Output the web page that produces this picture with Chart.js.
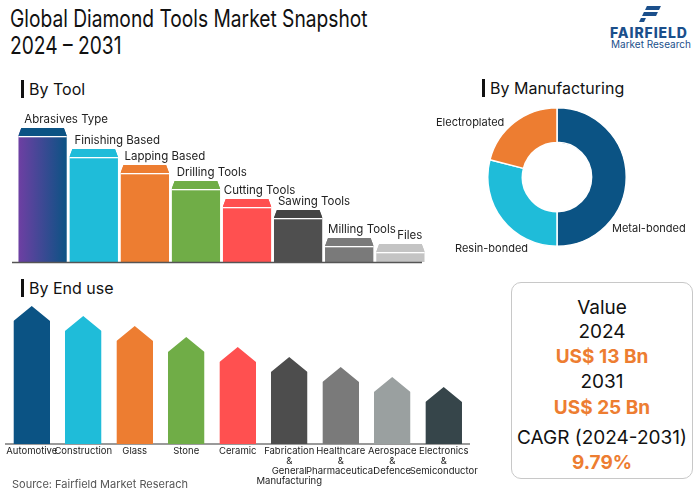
<!DOCTYPE html>
<html>
<head>
<meta charset="utf-8">
<script src="https://cdn.jsdelivr.net/npm/chart.js@4.4.1/dist/chart.umd.min.js"></script>
<style>
body{margin:0;width:700px;height:491px;background:#fff;position:relative;overflow:hidden;font-family:Inter,"Noto Sans",sans-serif;color:#111}
.abs{position:absolute;white-space:nowrap}
.title{left:10px;top:5px;font-size:24px;line-height:27px;font-weight:400;transform:scaleX(0.8);transform-origin:0 0}
.head{font-size:16px;line-height:18px;padding-left:5px;border-left:3px solid #111}
.lbl{font-size:11px;color:#222}
#box{left:511px;top:282px;width:180px;height:195px;border:1px solid #c8c8c8;border-radius:10px}
.bl{left:0;width:180px;text-align:center;font-size:19px;line-height:24px}
.or{color:#ed7d31;font-weight:700}
</style>
</head>
<body>
<div class="abs title">Global Diamond Tools Market Snapshot<br>2024 – 2031</div>

<div class="abs" style="left:646px;top:6px;width:14px;height:4px;background:#1b4f8b;transform:skewX(-25deg)"></div>
<div class="abs" style="left:643px;top:12px;width:14px;height:4px;background:#1b4f8b;transform:skewX(-25deg)"></div>
<div class="abs" style="left:640px;top:18px;width:5px;height:4px;background:#1b4f8b;transform:skewX(-25deg)"></div>
<div class="abs" style="left:610px;top:24px;font-size:14px;font-weight:800;color:#1b4f8b;letter-spacing:0.9px">FAIRFIELD</div>
<div class="abs" style="left:611px;top:38px;font-size:10px;color:#1b4f8b">Market Research</div>

<div class="abs head" style="left:21px;top:80px">By Tool</div>
<div class="abs head" style="left:482px;top:79px">By Manufacturing</div>
<div class="abs head" style="left:21px;top:279px">By End use</div>

<canvas id="toolChart" class="abs" style="left:10px;top:100px"></canvas>
<canvas id="endChart" class="abs" style="left:0px;top:300px"></canvas>
<canvas id="mfgChart" class="abs" style="left:487px;top:107px"></canvas>

<div class="abs lbl" style="left:436px;top:115px">Electroplated</div>
<div class="abs lbl" style="left:455px;top:241px">Resin-bonded</div>
<div class="abs lbl" style="left:612px;top:221px">Metal-bonded</div>

<div id="box" class="abs">
  <div class="abs bl" style="top:13px">Value</div>
  <div class="abs bl" style="top:37px">2024</div>
  <div class="abs bl or" style="top:62px">US$ 13 Bn</div>
  <div class="abs bl" style="top:87px">2031</div>
  <div class="abs bl or" style="top:113px">US$ 25 Bn</div>
  <div class="abs bl" style="top:143px">CAGR (2024-2031)</div>
  <div class="abs bl or" style="top:168px">9.79%</div>
</div>

<div class="abs" style="left:12px;top:477px;font-size:11px;color:#555">Source: Fairfield Market Reserach</div>

<script>
// ---------------------
// Data
// ---------------------

const toolLabels = ["Abrasives Type","Finishing Based","Lapping Based","Drilling Tools","Cutting Tools","Sawing Tools","Milling Tools","Files"];
const toolValues = [134,113,97,81,63,52,24,18];

const endUseLabels = [["Automotive"],["Construction"],["Glass"],["Stone"],["Ceramic"],["Fabrication","&","General","Manufacturing"],["Healthcare","&","Pharmaceutical"],["Aerospace","&","Defence"],["Electronics","&","Semiconductor"]];
const endUseValues = [138,128,118,107,97,87,77,67,57];

const mfgLabels = ["Metal-bonded","Resin-bonded","Electroplated"];
const mfgValues = [50,29,21];

// ---------------------
// Styles
// ---------------------

const toolColors = ["#0b5384","#1fbcd9","#ed7d31","#70ad47","#ff5050","#4f4f4f","#7a7a7a","#c4c4c4"];
const toolCapColors = ["#0b5384","#1fbcd9","#ed7d31","#70ad47","#ff5050","#444444","#7a7a7a","#c4c4c4"];
const toolLabelNudge = [6,5,4,5,1,4,3,21];
const endColors = ["#0b5384","#1fbcd9","#ed7d31","#70ad47","#ff5050","#4d4d4d","#7a7a7a","#9aa0a0","#36454a"];
const mfgColors = ["#0b5384","#1fbcd9","#ed7d31"];

const FONT = "Inter, 'Noto Sans', sans-serif";
const CAP = 8;
const ROOF = 15;

Chart.defaults.animation = false;
Chart.defaults.font.family = FONT;

function setSize(id,w,h){
    const c=document.getElementById(id);
    c.width=w; c.height=h;
    c.style.width=w+"px"; c.style.height=h+"px";
    return c;
}

// ---------------------
// By Tool
// ---------------------

const toolShapes = {
    id:"toolShapes",
    beforeDatasetsDraw(chart){
        const ctx=chart.ctx;
        ctx.save();
        ctx.beginPath();
        chart.getDatasetMeta(0).data.forEach(b=>{
            const l=b.x-b.width/2, r=b.x+b.width/2;
            ctx.moveTo(l,b.base);
            ctx.lineTo(l,b.y+CAP);
            ctx.lineTo(l+3,b.y);
            ctx.lineTo(r-3,b.y);
            ctx.lineTo(r,b.y+CAP);
            ctx.lineTo(r,b.base);
            ctx.closePath();
        });
        ctx.clip();
    },
    afterDatasetsDraw(chart){
        const ctx=chart.ctx;
        const bars=chart.getDatasetMeta(0).data;
        bars.forEach((b,i)=>{
            const l=b.x-b.width/2;
            ctx.fillStyle=toolCapColors[i];
            ctx.fillRect(l,b.y,b.width,CAP);
            ctx.fillStyle="#ffffff";
            ctx.fillRect(l,b.y+CAP,b.width,1.3);
        });
        ctx.restore();

        ctx.fillStyle="#222";
        ctx.font="11.5px "+FONT;
        ctx.textBaseline="middle";
        bars.forEach((b,i)=>{
            ctx.fillText(toolLabels[i],b.x-b.width/2+toolLabelNudge[i],b.y-8);
        });

        const a=chart.chartArea;
        ctx.strokeStyle="#555";
        ctx.lineWidth=1.5;
        ctx.beginPath();
        ctx.moveTo(2,a.bottom+0.5);
        ctx.lineTo(a.right-4,a.bottom+0.5);
        ctx.stroke();
    }
};

setSize("toolChart",416,166);

new Chart(document.getElementById("toolChart"),{
    type:"bar",
    data:{
        labels:toolLabels,
        datasets:[{
            data:toolValues,
            backgroundColor(c){
                const chart=c.chart, a=chart.chartArea;
                if(c.dataIndex!==0 || !a) return toolColors[c.dataIndex];
                const w=(a.right-a.left)/toolValues.length*0.95;
                const x=chart.scales.x.getPixelForValue(0);
                const g=chart.ctx.createLinearGradient(x-w/2,0,x+w/2,0);
                g.addColorStop(0,"#6e3fa3");
                g.addColorStop(1,"#0b5384");
                return g;
            },
            barPercentage:0.95,
            categoryPercentage:1
        }]
    },
    options:{
        responsive:false,
        layout:{padding:{left:7,right:0,top:0,bottom:4}},
        plugins:{legend:{display:false},tooltip:{enabled:false}},
        scales:{
            x:{display:false},
            y:{display:false,min:0,max:162}
        }
    },
    plugins:[toolShapes]
});

// ---------------------
// By End use
// ---------------------

const roofShapes = {
    id:"roofShapes",
    beforeDatasetsDraw(chart){
        const ctx=chart.ctx;
        ctx.save();
        ctx.beginPath();
        chart.getDatasetMeta(0).data.forEach(b=>{
            const l=b.x-b.width/2, r=b.x+b.width/2;
            ctx.moveTo(l,b.base);
            ctx.lineTo(l,b.y+ROOF);
            ctx.lineTo(b.x,b.y);
            ctx.lineTo(r,b.y+ROOF);
            ctx.lineTo(r,b.base);
            ctx.closePath();
        });
        ctx.clip();
    },
    afterDatasetsDraw(chart){
        chart.ctx.restore();
    }
};

setSize("endChart",480,188);

new Chart(document.getElementById("endChart"),{
    type:"bar",
    data:{
        labels:endUseLabels,
        datasets:[{
            data:endUseValues,
            backgroundColor:endColors,
            barPercentage:0.71,
            categoryPercentage:1
        }]
    },
    options:{
        responsive:false,
        layout:{padding:{left:6,right:4,top:0,bottom:0}},
        plugins:{legend:{display:false},tooltip:{enabled:false}},
        scales:{
            x:{
                grid:{display:false,drawTicks:false},
                border:{display:true,color:"#9a9a9a",width:2},
                ticks:{color:"#222",padding:2,autoSkip:false,maxRotation:0,font:{size:9.5,lineHeight:1.05}}
            },
            y:{display:false,min:0,max:144}
        }
    },
    plugins:[roofShapes]
});

// ---------------------
// By Manufacturing
// ---------------------

setSize("mfgChart",140,140);

new Chart(document.getElementById("mfgChart"),{
    type:"doughnut",
    data:{
        labels:mfgLabels,
        datasets:[{
            data:mfgValues,
            backgroundColor:mfgColors,
            borderColor:"#ffffff",
            borderWidth:1.5
        }]
    },
    options:{
        responsive:false,
        cutout:"50%",
        layout:{padding:0},
        plugins:{legend:{display:false},tooltip:{enabled:false}}
    }
});
</script>
</body>
</html>
